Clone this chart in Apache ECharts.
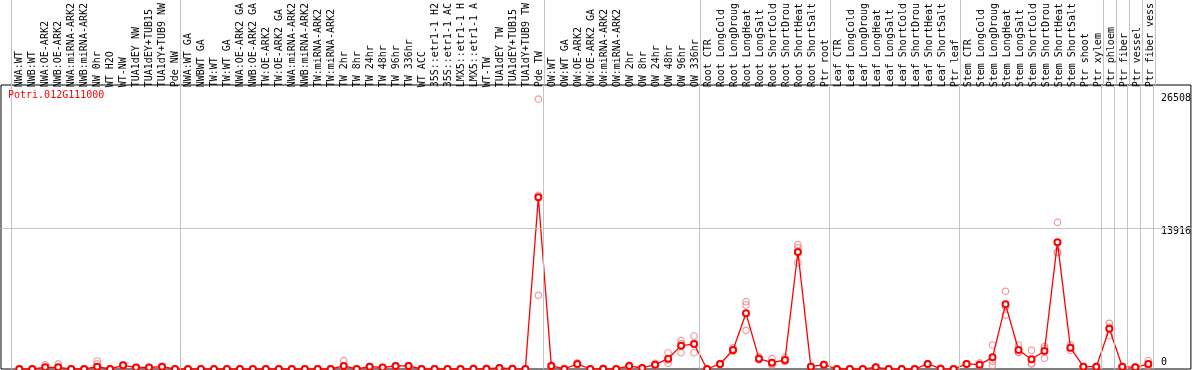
<!DOCTYPE html>
<html><head><meta charset="utf-8">
<script src="https://cdn.jsdelivr.net/npm/echarts@6/dist/echarts.min.js"></script>
<style>html,body{margin:0;padding:0;background:#fff}#c{width:1194px;height:370px}</style>
</head><body><div id="c"></div>
<script>
const geneId = 'Potri.012G111000';
const categories = [
'NWA:WT','NWB:WT','NWA:OE-ARK2','NWB:OE-ARK2','NWA:miRNA-ARK2','NWB:miRNA-ARK2','NW 0hr','WT H2O','WT-NW','TUA1dEY NW','TUA1dEY+TUB15','TUA1dY+TUB9 NW','Pde NW',
'NWA:WT GA','NWBWT GA','TW:WT','TW:WT GA','NWA:OE-ARK2 GA','NWB:OE-ARK2 GA','TW:OE-ARK2','TW:OE-ARK2 GA','NWA:miRNA-ARK2','NWB:miRNA-ARK2','TW:miRNA-ARK2','TW:miRNA-ARK2','TW 2hr','TW 8hr','TW 24hr','TW 48hr','TW 96hr','TW 336hr','WT ACC','35S::etr1-1 H2','35S::etr1-1 AC','LMX5::etr1-1 H','LMX5::etr1-1 A','WT-TW','TUA1dEY TW','TUA1dEY+TUB15','TUA1dY+TUB9 TW','Pde TW',
'OW:WT','OW:WT GA','OW:OE-ARK2','OW:OE-ARK2 GA','OW:miRNA-ARK2','OW:miRNA-ARK2','OW 2hr','OW 8hr','OW 24hr','OW 48hr','OW 96hr','OW 336hr',
'Root CTR','Root LongCold','Root LongDroug','Root LongHeat','Root LongSalt','Root ShortCold','Root ShortDrou','Root ShortHeat','Root ShortSalt','Ptr root',
'Leaf CTR','Leaf LongCold','Leaf LongDroug','Leaf LongHeat','Leaf LongSalt','Leaf ShortCold','Leaf ShortDrou','Leaf ShortHeat','Leaf ShortSalt','Ptr leaf',
'Stem CTR','Stem LongCold','Stem LongDroug','Stem LongHeat','Stem LongSalt','Stem ShortCold','Stem ShortDrou','Stem ShortHeat','Stem ShortSalt','Ptr shoot',
'Ptr xylem','Ptr phloem','Ptr fiber','Ptr vessel','Ptr fiber vess'
];
const meanValues = [
0,0,170,170,0,0,230,0,360,150,150,230,0,
0,0,0,0,0,0,0,0,0,0,0,0,300,0,230,150,300,300,0,0,0,0,30,30,100,30,0,16990,
300,0,500,0,30,0,300,100,430,1020,2310,2470,
0,500,1880,5510,1020,620,890,11580,230,430,
0,0,0,170,0,0,0,500,30,0,
500,430,1155,6400,1880,960,1780,12530,2110,230,
230,3990,230,170,500
];
const rep1 = [
0,0,400,500,0,0,790,0,420,150,150,230,0,
0,0,0,0,0,0,0,0,0,0,0,0,820,0,230,150,300,300,0,0,0,0,30,30,100,30,0,26700,
200,0,600,0,30,0,200,100,550,1610,2800,3265,
0,500,2100,6660,1200,1020,1150,12300,230,430,
0,0,0,170,0,0,0,500,30,0,
500,600,2375,7690,2375,1850,2230,14510,2400,230,
230,4520,230,170,820
];
const rep2 = [
0,0,60,0,0,0,500,0,330,150,150,230,0,
0,0,0,0,0,0,0,0,0,0,0,0,60,0,230,150,300,300,0,0,0,0,30,30,100,30,0,7290,
350,0,450,0,30,0,350,100,400,560,1610,1610,
0,500,1750,6330,900,420,760,12000,230,430,
0,0,0,170,0,0,0,500,30,0,
500,350,360,5340,1650,500,1060,11580,1850,230,
230,3300,230,170,380
];
const rep3 = [
0,0,50,10,0,0,100,0,330,150,150,230,0,
0,0,0,0,0,0,0,0,0,0,0,0,20,0,230,150,300,300,0,0,0,0,30,30,100,30,0,17170,
350,0,450,0,30,0,350,100,350,890,2520,2530,
0,500,1800,3830,960,420,760,10520,230,430,
0,0,0,170,0,0,0,500,30,0,
500,350,730,6170,1620,530,2050,11500,2080,230,
230,4150,230,170,300
];
const groupEnds = [-1,12,40,52,62,72,83,84,85,86,87];
const yTickValues = [0,13916,26508];
const yGridValue = 13916;

const FONT = 'DejaVu Sans Mono';
const XMIN = -1.4077, XMAX = 90.2846, YMAX = 28100;
const GRID_GRAY = '#c4c4c4';
const chart = echarts.init(document.getElementById('c'), null, {renderer:'canvas'});
const vLines = groupEnds.map(g => ({xAxis: g + 0.4}));
const repData = [].concat(
  rep1.map((v,i)=>[i,v]), rep2.map((v,i)=>[i,v]), rep3.map((v,i)=>[i,v])
);
const lineMark = (data) => ({
  silent: true, symbol: ['none','none'], label: {show:false},
  lineStyle: {color: GRID_GRAY, width: 1, type: 'solid'},
  emphasis: {disabled: true}, data: data, animation: false
});
const option = {
  animation: false,
  textStyle: {fontFamily: FONT},
  title: {text: geneId, left: 8, top: 90, padding: 0,
    textStyle: {color:'#ff0000', fontFamily: FONT, fontSize: 10, fontWeight:'normal'}},
  grid: [
    {left:1, right:1, top:85, bottom:1, show:true, borderColor:'#000', borderWidth:1, backgroundColor:'transparent'},
    {left:12.8, width:1144, top:85, bottom:1, show:false},
    {left:1, right:1, top:0, height:85, show:false}
  ],
  xAxis: [
    {gridIndex:0, type:'value', min:XMIN, max:XMAX, show:false},
    {gridIndex:1, type:'category', data: categories, position:'top', boundaryGap:true,
      axisLine:{show:false}, axisTick:{show:false}, splitLine:{show:false},
      axisLabel:{interval:0, rotate:90, margin:3, fontFamily:FONT, fontSize:10, color:'#000'}},
    {gridIndex:2, type:'value', min:XMIN, max:XMAX, show:false}
  ],
  yAxis: [
    {gridIndex:0, type:'value', min:0, max:YMAX, position:'right',
      axisLine:{show:false}, axisTick:{show:false}, splitLine:{show:false},
      axisLabel:{inside:true, customValues: yTickValues, align:'left', margin:30,
        fontFamily:FONT, fontSize:10, color:'#000',
        formatter: v => v === 0 ? '{z|0}' : (v === yTickValues[2] ? '{t|' + v + '}' : '{n|' + v + '}'),
        rich: {
          z:{fontFamily:FONT, fontSize:10, color:'#000', padding:[0,0,14,0]},
          n:{fontFamily:FONT, fontSize:10, color:'#000', padding:[7,0,0,0]},
          t:{fontFamily:FONT, fontSize:10, color:'#000', padding:[0,0,6,0]}
        }}},
    {gridIndex:1, type:'value', show:false},
    {gridIndex:2, type:'value', min:0, max:1, show:false}
  ],
  series: [
    {type:'line', xAxisIndex:0, yAxisIndex:0, data:[[0,0]], showSymbol:false,
      lineStyle:{opacity:0}, z:1, silent:true, markLine: lineMark(vLines.concat([{yAxis: yGridValue}]))},
    {type:'line', xAxisIndex:2, yAxisIndex:2, data:[[0,0]], showSymbol:false,
      lineStyle:{opacity:0}, z:1, silent:true, markLine: lineMark(vLines)},
    {type:'scatter', xAxisIndex:0, yAxisIndex:0, data: repData, symbol:'circle', symbolSize:6.5,
      itemStyle:{color:'rgba(0,0,0,0)', borderColor:'#ee8080', borderWidth:1.2}, z:2, silent:true},
    {type:'line', xAxisIndex:0, yAxisIndex:0, data: meanValues.map((v,i)=>[i,v]),
      symbol:'emptyCircle', symbolSize:6, showAllSymbol:true,
      lineStyle:{color:'#ff0000', width:1.3},
      itemStyle:{color:'#ff0000', borderWidth:1.7}, z:3, silent:true}
  ]
};
chart.setOption(option);
</script></body></html>
